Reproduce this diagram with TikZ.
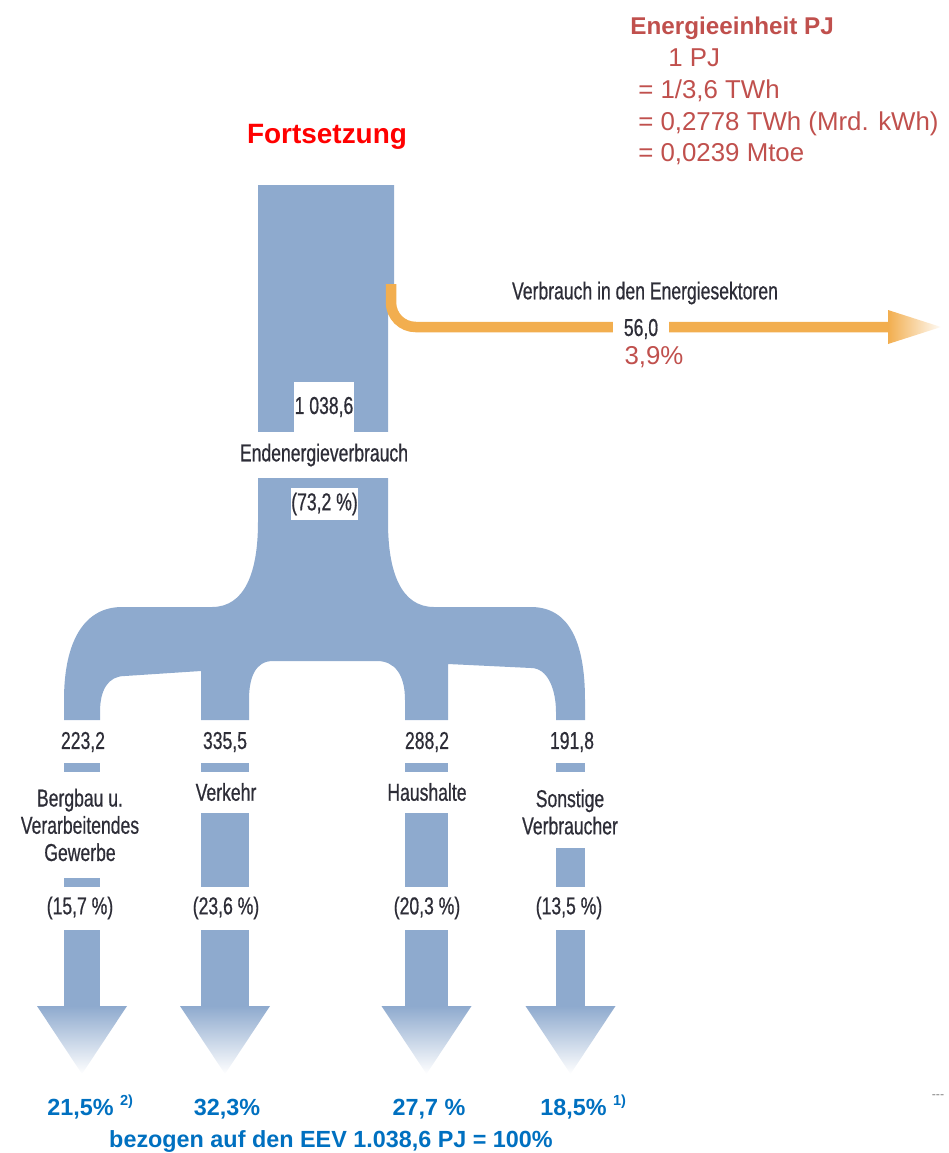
\documentclass[tikz,border=0pt]{standalone}
\usepackage{fontspec}
\setmainfont{Liberation Sans}
\newfontfamily\condfont[FakeStretch=0.72,FakeBold=0.6]{Liberation Sans}
\definecolor{flowblue}{RGB}{142,170,206}
\definecolor{floworange}{RGB}{242,174,79}
\definecolor{unitred}{RGB}{192,80,77}
\definecolor{eevblue}{RGB}{0,112,192}
\definecolor{labgray}{RGB}{45,45,55}
\begin{document}
\begin{tikzpicture}[x=0.02cm,y=-0.02cm,
  lab/.style={font=\condfont\fontsize{13.9}{15.5}\selectfont,text=labgray,inner sep=0pt,align=center},
  unit/.style={font=\fontsize{14.7}{17}\selectfont,text=unitred,inner sep=0pt,anchor=base west},
  pct/.style={font=\bfseries\fontsize{13.3}{16}\selectfont,text=eevblue,inner sep=0pt,anchor=base}]
\useasboundingbox (0,0) rectangle (948,1153);
\fill[flowblue] (258,185) -- (394,185) -- (394,287) -- (388,287) -- (388,522)
  .. controls (388,572) and (401,607) .. (434,607) -- (531,607)
  .. controls (568,607) and (585,640) .. (585,700) -- (585,720) -- (556,720) -- (556,712)
  .. controls (556,690) and (548,668) .. (531,668) -- (448,664) -- (448,720) -- (405,720) -- (405,700)
  .. controls (405,675) and (395,661) .. (377,661) -- (273,661)
  .. controls (255,661) and (249,678) .. (249,700) -- (249,720) -- (201,720) -- (201,671) -- (125,676)
  .. controls (108,676) and (100,690) .. (100,712) -- (100,720) -- (64,720) -- (64,700)
  .. controls (64,640) and (85,607) .. (122,607) -- (212,607)
  .. controls (245,607) and (258,572) .. (258,522) -- cycle;
\foreach \cx/\hw/\yb in {82/18/878,225/24/813,426.5/21.5/813,570.5/14.5/848}{
  \fill[flowblue] (\cx-\hw,763) rectangle (\cx+\hw,772);
  \fill[flowblue] (\cx-\hw,\yb) rectangle (\cx+\hw,887);
  \fill[flowblue] (\cx-\hw,930) rectangle (\cx+\hw,1007);
  \shade[top color=flowblue,bottom color=white] (\cx-45,1006) -- (\cx+45,1006) -- (\cx,1074) -- cycle;
}
\draw[floworange,line width=0.21cm,rounded corners=14pt] (391,284) -- (391,327) -- (889,327);
\shade[left color=floworange,right color=floworange!5] (888,310) -- (941,327) -- (888,344) -- cycle;
\node[lab,fill=white,minimum width=1.2cm,minimum height=1cm] (total) at (324,407) {1 038,6};
\node[lab,fill=white,minimum height=0.92cm] (eev) at (324,455) {Endenergieverbrauch};
\node[lab,fill=white,minimum width=1.3cm,minimum height=0.64cm] (share) at (324.5,504) {(73,2 \%)};
\node[lab] (sektor) at (645,293) {Verbrauch in den Energiesektoren};
\node[lab,fill=white,minimum width=1.12cm,minimum height=0.5cm] (sektorval) at (641,329) {56,0};
\node[unit,anchor=center] (sektorpct) at (654,357) {3,9\%};
\node[lab] (v1) at (83,742) {223,2};
\node[lab] (v2) at (225,742) {335,5};
\node[lab] (v3) at (427,742) {288,2};
\node[lab] (v4) at (572,742) {191,8};
\node[lab] (n1) at (80,825) {Bergbau u.\\Verarbeitendes\\Gewerbe};
\node[lab] (n2) at (226,792) {Verkehr};
\node[lab] (n3) at (427,792) {Haushalte};
\node[lab] (n4) at (570,812) {Sonstige\\Verbraucher};
\node[lab] (p1) at (80,908) {(15,7 \%)};
\node[lab] (p2) at (226,908) {(23,6 \%)};
\node[lab] (p3) at (427,908) {(20,3 \%)};
\node[lab] (p4) at (569,908) {(13,5 \%)};
\node[pct,anchor=base west] (s1) at (47,1115) {21,5\% \raisebox{5.7pt}{\fontsize{8.3}{9}\selectfont 2)}};
\node[pct] (s2) at (227,1115) {32,3\%};
\node[pct] (s3) at (429,1115) {27,7 \%};
\node[pct,anchor=base west] (s4) at (540,1115) {18,5\% \raisebox{5.7pt}{\fontsize{8.3}{9}\selectfont 1)}};
\node[pct] (ref) at (331,1147) {bezogen auf den EEV 1.038,6 PJ = 100\%};
\node[font=\bfseries\fontsize{15.9}{18}\selectfont,text=red,inner sep=0pt] (title) at (327,137) {Fortsetzung};
\node[unit,font=\bfseries\fontsize{13.8}{16}\selectfont] (unithead) at (630,34) {Energieeinheit PJ};
\node[unit] (u1) at (668,66) {1 PJ};
\node[unit] (u2) at (638,98) {= 1/3,6 TWh};
\node[unit] (u3) at (638,130) {= 0,2778 TWh (Mrd. kWh)};
\node[unit] (u4) at (638,161) {= 0,0239 Mtoe};
\node[text=gray,font=\fontsize{7}{8}\selectfont,inner sep=0pt] (dash) at (938,1097) {-{}-{}-};
\end{tikzpicture}
\end{document}
